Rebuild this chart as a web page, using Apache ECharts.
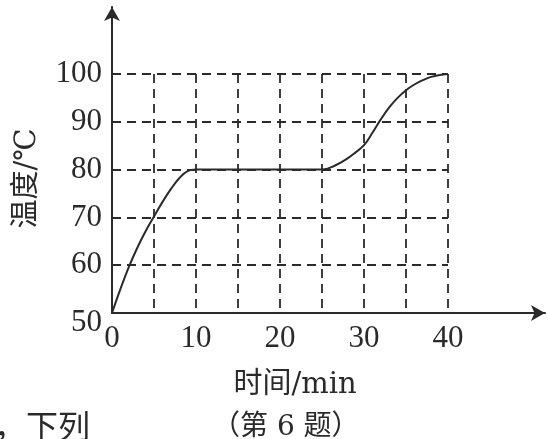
<!DOCTYPE html>
<html>
<head>
<meta charset="utf-8">
<script src="https://cdn.jsdelivr.net/npm/echarts@6/dist/echarts.min.js"></script>
<style>
  html, body { margin: 0; padding: 0; background: #fff; }
  #chart { width: 548px; height: 439px; }
</style>
</head>
<body>
<div id="chart"></div>
<script>
// 时间 (min) 与 温度 (℃)
const timeMin = [0, 1, 2, 3, 4, 5, 6, 7, 8, 9, 10, 15, 20, 25, 26.5, 28, 29, 30, 31, 32, 33, 34, 35, 36, 37, 38, 39, 40];
const tempC = [50, 55, 59.6, 63.6, 67.1, 70.2, 73.2, 75.9, 78.2, 79.7, 80, 80, 80, 80, 80.8, 82.3, 83.6, 85.1, 87.7, 90.5, 93, 95, 96.6, 97.8, 98.7, 99.4, 99.8, 100];

const xTicks = [0, 10, 20, 30, 40];
const yTicks = [50, 60, 70, 80, 90, 100];

const ink = "#2a2a2a";
const serif = "'Liberation Serif', 'Noto Sans CJK SC', serif";
const wideSerif = "'DejaVu Serif', 'Noto Sans CJK SC', serif";
const dash = { color: ink, width: 1.8, type: [9, 6] };

const chart = echarts.init(document.getElementById("chart"));

chart.setOption({
  backgroundColor: "#fff",
  animation: false,
  grid: [
    // 带箭头的坐标轴
    { left: 112, right: 3, top: 7, bottom: 126 },
    // 虚线网格 0-40 × 50-100
    { left: 112, right: 100, top: 74, bottom: 126 },
  ],
  xAxis: [
    {
      gridIndex: 0, type: "value", min: 0, max: 51.5,
      axisLine: { show: true, symbol: ["none", "arrow"], symbolSize: [12, 14], lineStyle: { color: ink, width: 2 } },
      axisTick: { show: false }, axisLabel: { show: false }, splitLine: { show: false },
    },
    {
      gridIndex: 1, type: "value", min: 0, max: 40, interval: 5,
      axisLine: { show: false }, axisTick: { show: false },
      axisLabel: {
        margin: 10, color: ink, fontFamily: serif, fontSize: 31,
        formatter: (v) => (xTicks.includes(v) ? String(v) : ""),
      },
      splitLine: { show: true, showMinLine: false, lineStyle: dash },
      name: "时间/min", nameLocation: "middle", nameGap: 58,
      nameTextStyle: { color: ink, fontFamily: wideSerif, fontSize: 29, padding: [0, 0, 0, 30] },
    },
  ],
  yAxis: [
    {
      gridIndex: 0, type: "value", min: 50, max: 114,
      axisLine: { show: true, symbol: ["none", "arrow"], symbolSize: [12, 14], lineStyle: { color: ink, width: 2 } },
      axisTick: { show: false }, axisLabel: { show: false }, splitLine: { show: false },
    },
    {
      gridIndex: 1, type: "value", min: 50, max: 100, interval: 10,
      axisLine: { show: false }, axisTick: { show: false },
      axisLabel: {
        margin: 10, color: ink, fontFamily: serif, fontSize: 31,
        formatter: (v) => (v === yTicks[0] ? "{low|" + v + "}" : String(v)),
        rich: { low: { fontFamily: serif, fontSize: 31, color: ink, padding: [20, 0, 0, 0] } },
      },
      splitLine: { show: true, showMinLine: false, lineStyle: dash },
      name: "温度/℃", nameLocation: "middle", nameGap: 70, nameRotate: 90,
      nameTextStyle: { color: ink, fontFamily: wideSerif, fontSize: 29, padding: [0, 0, 0, 30] },
    },
  ],
  graphic: [
    { type: "text", left: -6, top: 414, style: { text: "，下列", font: "32px " + serif, fill: ink } },
    { type: "text", left: 212, top: 414, style: { text: "（第 6 题）", font: "28px " + wideSerif, fill: ink } },
  ],
  series: [
    {
      type: "line",
      xAxisIndex: 1, yAxisIndex: 1,
      data: timeMin.map((t, i) => [t, tempC[i]]),
      smooth: 0.4,
      symbol: "none",
      lineStyle: { color: ink, width: 2 },
      z: 5,
    },
  ],
});
</script>
</body>
</html>
